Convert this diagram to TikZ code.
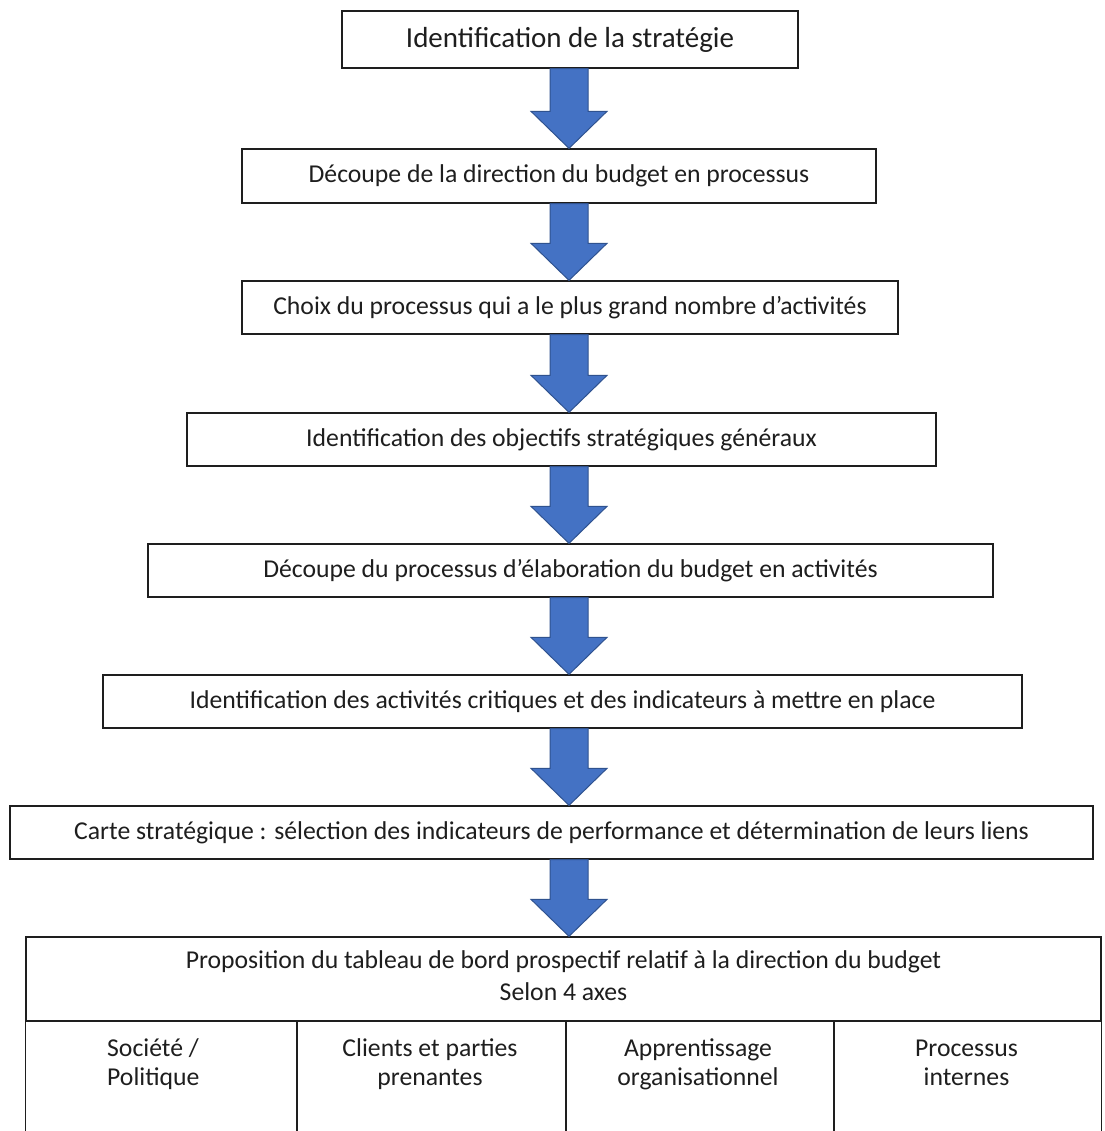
\documentclass[tikz,border=0pt]{standalone}
\usepackage{fontspec}
\setmainfont{Carlito}
\usetikzlibrary{calc}

\definecolor{inkgray}{HTML}{1E1E1E}
\definecolor{arrowfill}{HTML}{4472C4}
\definecolor{arrowedge}{HTML}{2F528F}

\tikzset{
  stepbox/.style={draw=inkgray, line width=1.3pt, fill=white, rectangle,
    inner sep=0pt, text=inkgray, text height=17pt, text depth=3pt,
    font=\fontsize{25.7}{31}\selectfont},
  titlebox/.style={stepbox, text height=21pt, text depth=5pt,
    font=\fontsize{29}{34}\selectfont},
  blockarrow/.style={fill=arrowfill, draw=arrowedge, line width=1pt, line join=miter},
  celltext/.style={text=inkgray, font=\fontsize{25.7}{31}\selectfont, inner sep=0pt},
  gridline/.style={draw=inkgray, line width=1.3pt}
}

% block arrow from the bottom of one box to the top of the next
\newcommand\flowarrow[2]{%
  \path[blockarrow] let \p1=(#1.south), \p2=(#2.north) in
    (550,\y1) -- (588,\y1) -- (588,\y2+37pt) -- (607,\y2+37pt) -- (569,\y2)
    -- (531,\y2+37pt) -- (550,\y2+37pt) -- cycle;}

\begin{document}
\begin{tikzpicture}[x=1pt, y=-1pt]
\useasboundingbox (0,0) rectangle (1104,1131);
\fill[white] (0,0) rectangle (1104,1131);

\node[titlebox, minimum width=456pt, minimum height=57pt] (s1) at (570,39.5)
  {Identification de la stratégie};
\node[stepbox, minimum width=634pt, minimum height=54pt] (s2) at (559,176)
  {Découpe de la direction du budget en processus};
\node[stepbox, minimum width=656pt, minimum height=53pt] (s3) at (570,307.5)
  {Choix du processus qui a le plus grand nombre d’activités};
\node[stepbox, minimum width=749pt, minimum height=53pt] (s4) at (561.5,439.5)
  {Identification des objectifs stratégiques généraux};
\node[stepbox, minimum width=845pt, minimum height=53pt] (s5) at (570.5,570.5)
  {Découpe du processus d’élaboration du budget en activités};
\node[stepbox, minimum width=919pt, minimum height=53pt] (s6) at (562.5,701.5)
  {Identification des activités critiques et des indicateurs à mettre en place};
\node[stepbox, minimum width=1083pt, minimum height=53pt] (s7) at (551.5,832.5)
  {Carte stratégique : sélection des indicateurs de performance et détermination de leurs liens};

% scorecard: header row and four axes
\node[stepbox, minimum width=1075pt, minimum height=84pt] (board) at (563.5,979) {};
\node[celltext, anchor=base] (head1) at (563.5,968)
  {Proposition du tableau de bord prospectif relatif à la direction du budget};
\node[celltext, anchor=base] (head2) at (563.5,1000.5) {Selon 4 axes};

\draw[gridline] (board.south west) -- ++(0,130);
\draw[gridline] (297,1021) -- (297,1151);
\draw[gridline] (566,1021) -- (566,1151);
\draw[gridline] (834,1021) -- (834,1151);
\draw[gridline] (board.south east) -- ++(0,130);

\node[celltext, anchor=base west] (ax1a) at (107,1056.5) {Société /};
\node[celltext, anchor=base west] (ax1b) at (107,1085) {Politique};
\node[celltext, anchor=base] (ax2a) at (430,1056.5) {Clients et parties};
\node[celltext, anchor=base] (ax2b) at (430,1085) {prenantes};
\node[celltext, anchor=base] (ax3a) at (698,1056.5) {Apprentissage};
\node[celltext, anchor=base] (ax3b) at (698,1085) {organisationnel};
\node[celltext, anchor=base] (ax4a) at (966.5,1056.5) {Processus};
\node[celltext, anchor=base] (ax4b) at (966.5,1085) {internes};

\flowarrow{s1}{s2}
\flowarrow{s2}{s3}
\flowarrow{s3}{s4}
\flowarrow{s4}{s5}
\flowarrow{s5}{s6}
\flowarrow{s6}{s7}
\flowarrow{s7}{board}
\end{tikzpicture}
\end{document}
